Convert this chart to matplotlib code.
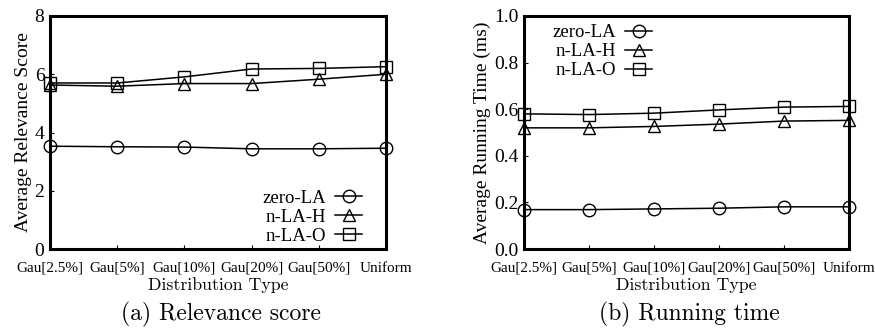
import matplotlib
matplotlib.use("Agg")
import matplotlib.pyplot as plt
import numpy as np

dists = ['Gau[2.5%]', 'Gau[5%]', 'Gau[10%]', 'Gau[20%]', 'Gau[50%]', 'Uniform']

# (a) average relevance score
score_zero = [3.53, 3.51, 3.50, 3.44, 3.44, 3.46]
score_h = [5.63, 5.59, 5.68, 5.68, 5.83, 6.00]
score_o = [5.70, 5.70, 5.91, 6.18, 6.20, 6.26]

# (b) average running time (ms)
time_zero = [0.169, 0.169, 0.172, 0.175, 0.181, 0.181]
time_h = [0.520, 0.520, 0.526, 0.536, 0.549, 0.552]
time_o = [0.580, 0.577, 0.583, 0.597, 0.609, 0.612]

names = ['zero-LA', 'n-LA-H', 'n-LA-O']
markers = ['o', '^', 's']

plt.rcParams['font.family'] = 'Liberation Serif'

W, H = 875, 333
fig = plt.figure(figsize=(W / 100, H / 100), dpi=100)
ax1 = fig.add_axes([50/W, 84/H, 336/W, 233/H])
ax2 = fig.add_axes([524/W, 84/H, 325/W, 233/H])

x = np.arange(len(dists))

def draw(ax, series, ylim, yticks, yticklabels, ylabel, loc, anchor, caption):
    for ys, m, n in zip(series, markers, names):
        ax.plot(x, ys, color='black', lw=1.1, marker=m, ms=9,
                mfc='none', mec='black', mew=1.0, label=n, clip_on=False)
    ax.set_xlim(0, 5)
    ax.set_ylim(*ylim)
    ax.set_xticks(x)
    ax.set_xticklabels(dists, fontsize=11)
    ax.set_yticks(yticks)
    ax.set_yticklabels(yticklabels)
    ax.tick_params(axis='y', labelsize=14, direction='in', length=3, pad=4)
    ax.tick_params(axis='x', direction='in', length=3, pad=9)
    for s in ax.spines.values():
        s.set_linewidth(2.2)
    ax.set_ylabel(ylabel, fontsize=14, labelpad=2)
    ax.set_xlabel('Distribution Type', fontsize=12.8, family='cmr10', labelpad=2)
    box = ax.get_position()
    fig.text(box.x0 + box.width / 2 + 0.003, 1 - 314 / H, caption,
             ha='center', va='center', fontsize=17, family='cmr10')
    ax.legend(loc=loc, bbox_to_anchor=anchor, markerfirst=False, frameon=False,
              fontsize=13.5, handlelength=1.45, handletextpad=0.5,
              labelspacing=0.1, borderaxespad=0, borderpad=0)

draw(ax1, [score_zero, score_h, score_o], (0, 8), [0, 2, 4, 6, 8],
     ['0', '2', '4', '6', '8'],
     'Average Relevance Score', 'lower right', (0.929, 0.017), '(a) Relevance score')
draw(ax2, [time_zero, time_h, time_o], (0, 1.0), [0, 0.2, 0.4, 0.6, 0.8, 1.0],
     ['0.0', '0.2', '0.4', '0.6', '0.8', '1.0'],
     'Average Running Time (ms)', 'upper left', (0.086, 0.965), '(b) Running time')

fig.savefig('out.png', dpi=100)
